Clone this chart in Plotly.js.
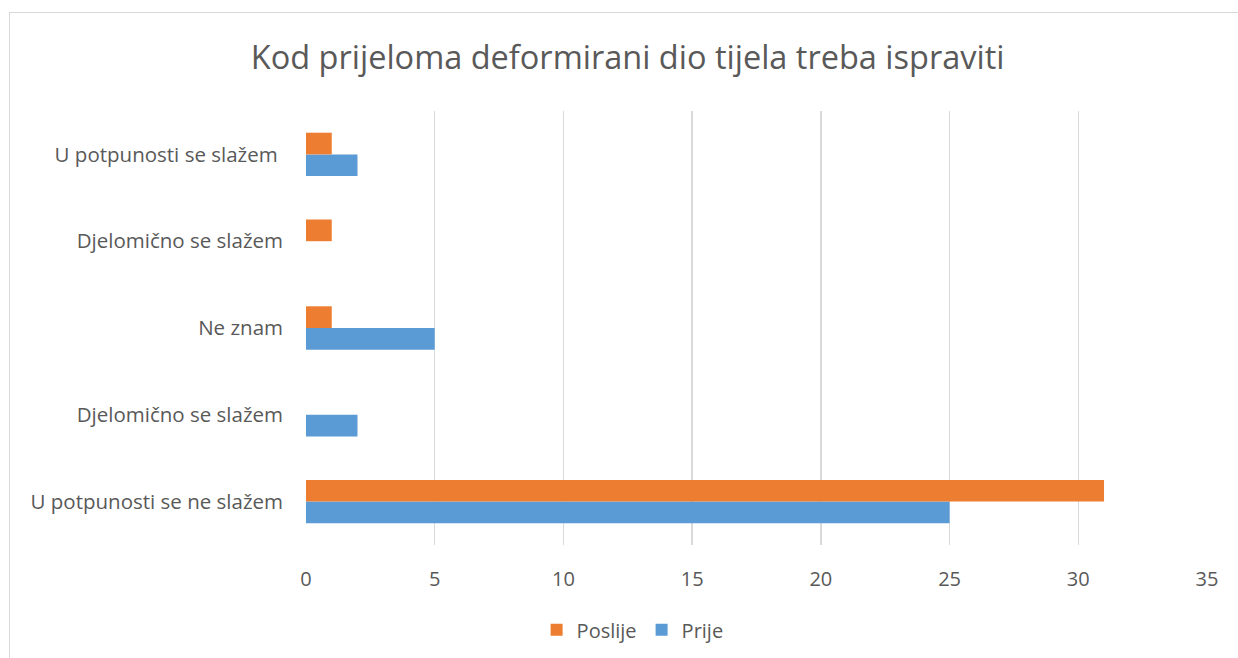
<!DOCTYPE html>
<html>
<head>
<meta charset="utf-8">
<script src="https://cdn.plot.ly/plotly-3.0.1.min.js"></script>
<style>
html,body{margin:0;padding:0;background:#fff;}
#wrap{position:relative;width:1238px;height:658px;}
#chart{width:1238px;height:658px;}
#frame{position:absolute;left:9px;top:12px;width:1240px;height:660px;border:1px solid #D9D9D9;pointer-events:none;box-sizing:border-box;}
</style>
</head>
<body>
<div id="wrap"><div id="chart"></div><div id="frame"></div></div>
<script>
// Categories from bottom to top
var categories = ["U potpunosti se ne slažem", "Djelomično se slažem", "Ne znam", "Djelomično se slažem", "U potpunosti se slažem "];
var prije = [25, 2, 5, 0, 2];
var poslije = [31, 0, 1, 1, 1];
var xTicks = [0, 5, 10, 15, 20, 25, 30, 35];

var pos = categories.map(function(_, i){ return i; });
var textColor = "#595959";
var font = "Open Sans, Noto Sans, sans-serif";

var traces = [
  {type:"bar", orientation:"h", name:"Prije", x:prije, y:pos, marker:{color:"#5B9BD5"}, hoverinfo:"x+name"},
  {type:"bar", orientation:"h", name:"Poslije", x:poslije, y:pos, marker:{color:"#ED7D31"}, hoverinfo:"x+name"}
];

var layout = {
  width:1238, height:658,
  paper_bgcolor:"#fff", plot_bgcolor:"#fff",
  font:{family:font, color:textColor},
  title:{text:"Kod prijeloma deformirani dio tijela treba ispraviti", font:{size:32.5, color:textColor, family:font},
         x:0.507, xref:"container", xanchor:"center", y:0.913, yref:"container", yanchor:"middle"},
  margin:{l:306, r:31, t:111, b:113, pad:0},
  barmode:"group", bargap:0.5, bargroupgap:0,
  showlegend:true,
  legend:{orientation:"h", traceorder:"reversed", x:0.511, xref:"container", xanchor:"center",
          y:0.043, yref:"container", yanchor:"middle", font:{size:20, color:textColor}, itemwidth:30},
  xaxis:{range:[0,35], tickvals:xTicks, ticktext:xTicks.map(String), showgrid:true, gridcolor:"#D9D9D9", gridwidth:1.5,
         zeroline:false, showline:false, ticks:"", tickfont:{size:20, color:textColor}, ticklabelstandoff:20, fixedrange:true},
  yaxis:{range:[-0.5, 4.5], tickmode:"array", tickvals:pos, ticktext:categories, showgrid:false, zeroline:false,
         showline:false, ticks:"", tickfont:{size:20.5, color:textColor}, ticklabelstandoff:22, fixedrange:true}
};

Plotly.newPlot("chart", traces, layout, {displayModeBar:false, staticPlot:true});
</script>
</body>
</html>
